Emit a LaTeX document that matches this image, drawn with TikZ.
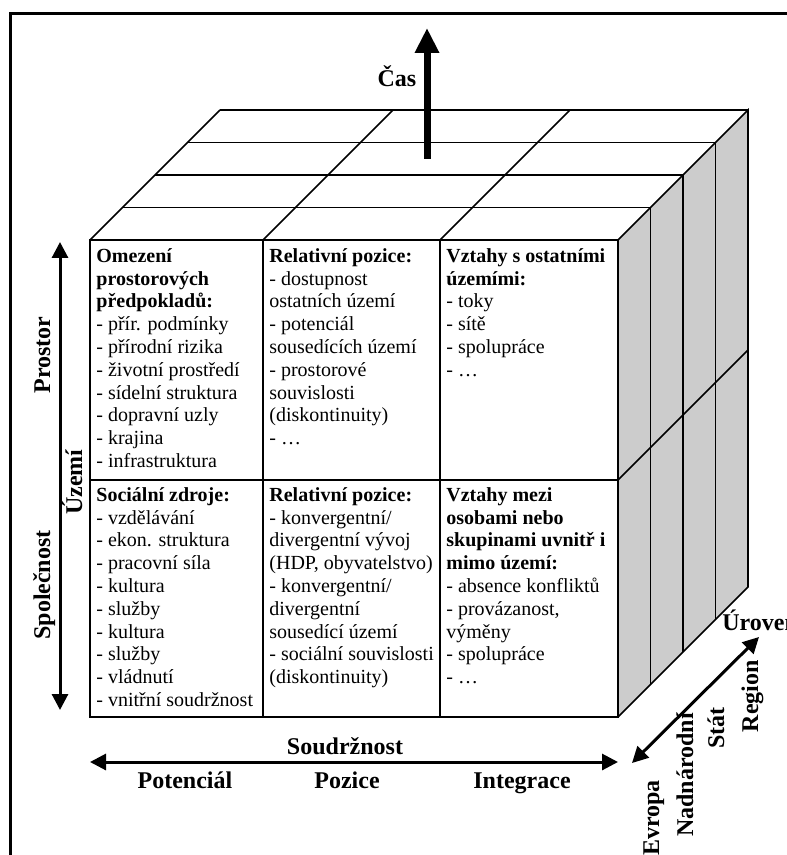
\documentclass[tikz,border=0pt]{standalone}
\usepackage{fontspec}
\setmainfont{Liberation Serif}
\usetikzlibrary{arrows.meta}
\definecolor{sidegray}{RGB}{204,204,204}
\begin{document}
\begin{tikzpicture}[x=0.5pt,y=-0.5pt,
  grid/.style={line width=0.8pt},
  frontline/.style={line width=1pt},
  celltext/.style={anchor=north west, inner sep=0pt, align=left, font=\fontsize{10}{11.4}\selectfont},
  axislabel/.style={font=\fontsize{12}{14}\selectfont\bfseries, inner sep=0pt},
  axisarrow/.style={line width=1.5pt, {Triangle[length=8pt,width=8pt]}-{Triangle[length=8pt,width=8pt]}},
]
\useasboundingbox (0,0) rectangle (786,855);
% frame
\draw[line width=1.5pt] (10.3,870) -- (10.3,13.3) -- (800,13.3);

% top face
\fill[white] (90,240) -- (220,110) -- (748,110) -- (618,240) -- cycle;
\foreach \k in {1,2,3,4}{
  \draw[grid] ({90+32.5*\k},{240-32.5*\k}) -- ({618+32.5*\k},{240-32.5*\k});
}
\foreach \xx in {90,263,440}{
  \draw[grid] (\xx,240) -- (\xx+130,110);
}
% right face
\fill[sidegray] (618,240) -- (748,110) -- (748,587) -- (618,717) -- cycle;
\foreach \k in {1,2,3}{
  \draw[grid] ({618+32.5*\k},{240-32.5*\k}) -- ({618+32.5*\k},{717-32.5*\k});
}
\draw[grid] (618,240) -- (748,110) -- (748,587) -- (618,717);
\draw[grid] (618,480) -- (748,350);
% front face
\draw[frontline, fill=white] (90,240) rectangle (618,717);
\draw[frontline] (263,240) -- (263,717);
\draw[frontline] (440,240) -- (440,717);
\draw[frontline] (90,480) -- (618,480);

% time arrow
\coordinate (casS) at (427,159);
\coordinate (casE) at (427,28);
\draw[line width=3.5pt, -{Triangle[length=12.5pt,width=11.5pt]}] (casS) -- (casE);
\node[axislabel, anchor=base] (cas) at (397,87) {Čas};

% cell texts
\node[celltext] (tl) at (96,246) {\strut\textbf{Omezení}\\\textbf{prostorových}\\\textbf{předpokladů:}\\- přír. podmínky\\- přírodní rizika\\- životní prostředí\\- sídelní struktura\\- dopravní uzly\\- krajina\\- infrastruktura};
\node[celltext] (tm) at (269,246) {\strut\textbf{Relativní pozice:}\\- dostupnost\\ostatních území\\- potenciál\\sousedících území\\- prostorové\\souvislosti\\(diskontinuity)\\- …};
\node[celltext] (tr) at (446,246) {\strut\textbf{Vztahy s ostatními}\\\textbf{územími:}\\- toky\\- sítě\\- spolupráce\\- …};
\node[celltext] (bl) at (96,485) {\strut\textbf{Sociální zdroje:}\\- vzdělávání\\- ekon. struktura\\- pracovní síla\\- kultura\\- služby\\- kultura\\- služby\\- vládnutí\\- vnitřní soudržnost};
\node[celltext] (bm) at (269,485) {\strut\textbf{Relativní pozice:}\\- konvergentní/\\divergentní vývoj\\(HDP, obyvatelstvo)\\- konvergentní/\\divergentní\\sousedící území\\- sociální souvislosti\\(diskontinuity)};
\node[celltext] (br) at (446,485) {\strut\textbf{Vztahy mezi}\\\textbf{osobami nebo}\\\textbf{skupinami uvnitř i}\\\textbf{mimo území:}\\- absence konfliktů\\- provázanost,\\výměny\\- spolupráce\\- …};

% vertical axis
\coordinate (vT) at (60,242);
\coordinate (vB) at (60,710);
\draw[axisarrow] (vT) -- (vB);
\node[axislabel, rotate=90, anchor=base] (prostor) at (50,355) {Prostor};
\node[axislabel, rotate=90, anchor=base] (spol) at (50,585) {Společnost};
\node[axislabel, rotate=90, anchor=base] (uzemi) at (82,482) {Území};

% horizontal axis
\coordinate (hL) at (90,762);
\coordinate (hR) at (618,762);
\draw[axisarrow] (hL) -- (hR);
\node[axislabel, anchor=base] (soud) at (345,754) {Soudržnost};
\node[axislabel, anchor=base] (pot) at (185,788) {Potenciál};
\node[axislabel, anchor=base] (poz) at (347,788) {Pozice};
\node[axislabel, anchor=base] (integ) at (522,788) {Integrace};

% depth axis
\coordinate (dL) at (632,763);
\coordinate (dR) at (759,637);
\draw[axisarrow] (dL) -- (dR);
\node[axislabel, anchor=base west] (urov) at (722,630) {Úroveň};
\node[axislabel, rotate=90, anchor=base] (evr) at (659,818) {Evropa};
\node[axislabel, rotate=90, anchor=base] (nadn) at (693,775) {Nadnárodní};
\node[axislabel, rotate=90, anchor=base] (stat) at (724,728) {Stát};
\node[axislabel, rotate=90, anchor=base] (reg) at (758,696) {Region};
\end{tikzpicture}
\end{document}
